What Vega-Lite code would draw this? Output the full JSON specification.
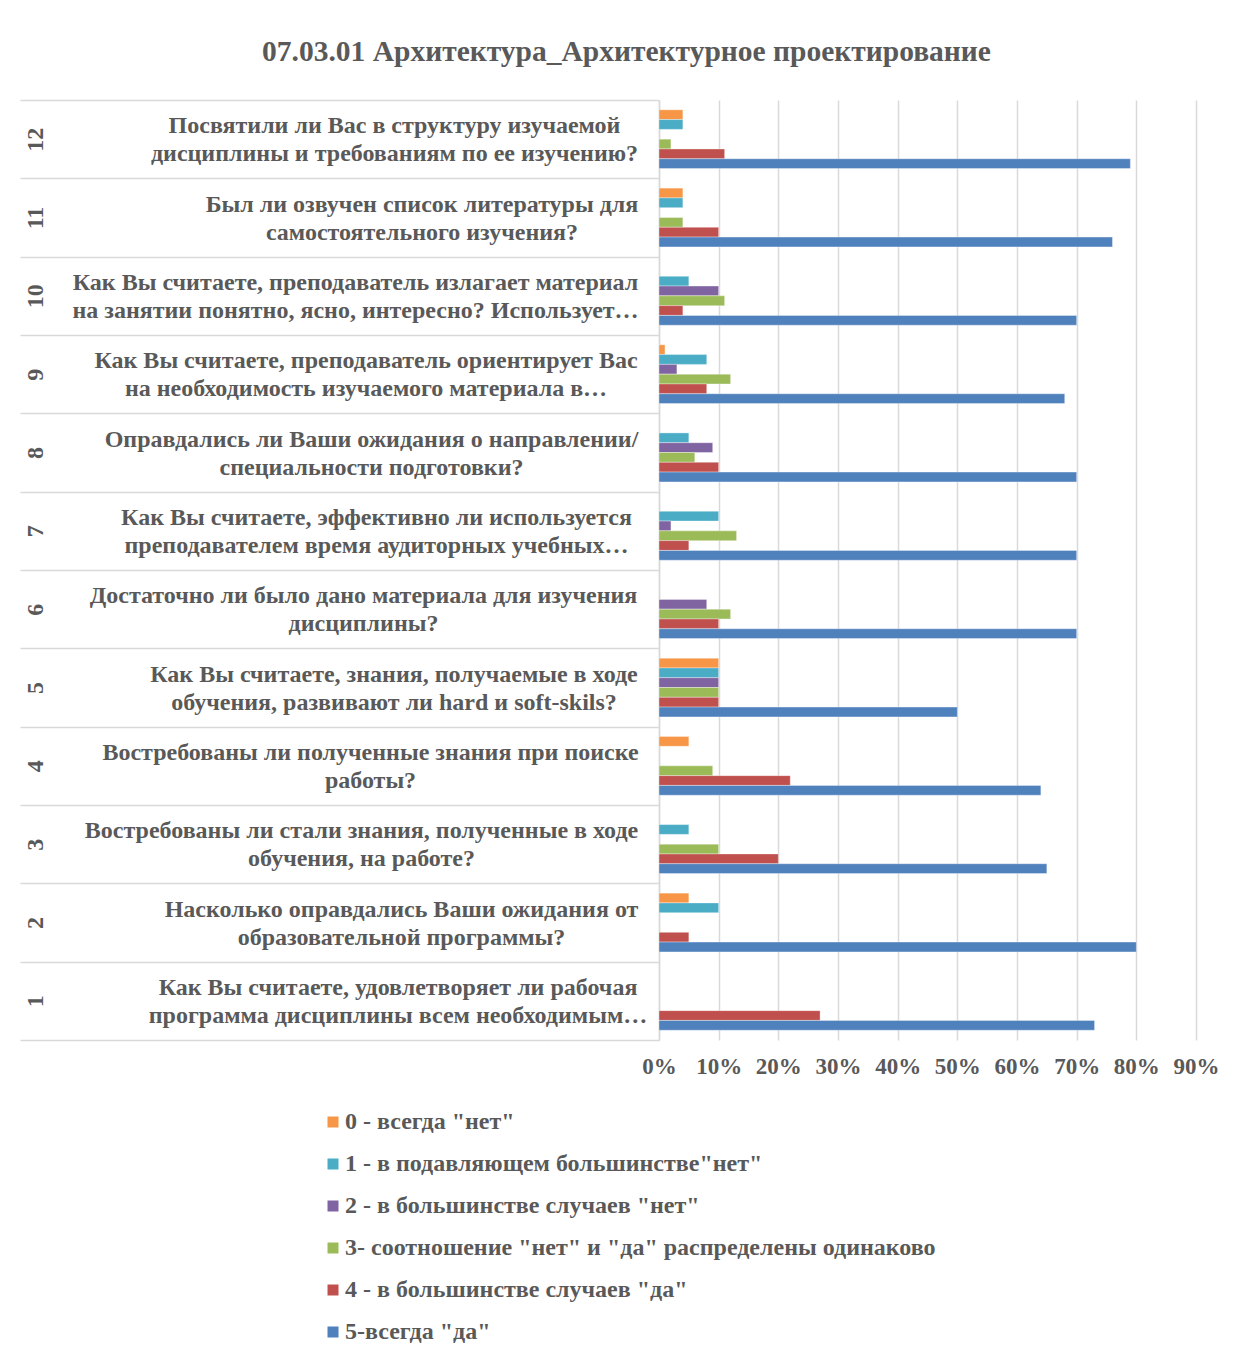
{
  "$schema": "https://vega.github.io/schema/vega-lite/v6.json",
  "autosize": "none",
  "padding": {"left": 659, "top": 100, "right": 42, "bottom": 318},
  "width": 537,
  "height": 940,
  "background": "#ffffff",
  "config": {"view": {"stroke": null}},
  "title": {
    "text": "07.03.01 Архитектура_Архитектурное проектирование",
    "font": "Liberation Serif",
    "fontWeight": "bold",
    "fontSize": 29.5,
    "color": "#595959",
    "anchor": "middle",
    "frame": "group",
    "dx": -301,
    "offset": 32
  },
  "datasets": {
    "questions": [
      {"n": 12, "q": "Посвятили ли Вас в структуру изучаемой|дисциплины и требованиям по ее изучению?"},
      {"n": 11, "q": "Был ли озвучен список литературы для|самостоятельного изучения?"},
      {"n": 10, "q": "Как Вы считаете, преподаватель излагает материал|на занятии понятно, ясно, интересно? Использует…"},
      {"n": 9, "q": "Как Вы считаете, преподаватель ориентирует Вас|на необходимость изучаемого материала в…"},
      {"n": 8, "q": "Оправдались ли Ваши ожидания о направлении/|специальности подготовки?"},
      {"n": 7, "q": "Как Вы считаете, эффективно ли используется|преподавателем время аудиторных учебных…"},
      {"n": 6, "q": "Достаточно ли было дано материала для изучения|дисциплины?"},
      {"n": 5, "q": "Как Вы считаете, знания, получаемые в ходе|обучения, развивают ли hard  и soft-skils?"},
      {"n": 4, "q": "Востребованы ли полученные знания при поиске|работы?"},
      {"n": 3, "q": "Востребованы ли стали знания, полученные в ходе|обучения, на работе?"},
      {"n": 2, "q": "Насколько оправдались Ваши ожидания от|образовательной программы?"},
      {"n": 1, "q": "Как Вы считаете, удовлетворяет ли рабочая|программа дисциплины всем необходимым…"}
    ],
    "series": [
      {"k": 0, "s": "0 - всегда \"нет\""},
      {"k": 1, "s": "1 - в подавляющем большинстве\"нет\""},
      {"k": 2, "s": "2 - в большинстве случаев \"нет\""},
      {"k": 3, "s": "3- соотношение \"нет\" и \"да\" распределены одинаково"},
      {"k": 4, "s": "4 - в большинстве случаев \"да\""},
      {"k": 5, "s": "5-всегда \"да\""}
    ],
    "bars": [
      {"n": 12, "k": 0, "v": 0.04}, {"n": 12, "k": 1, "v": 0.04}, {"n": 12, "k": 3, "v": 0.02}, {"n": 12, "k": 4, "v": 0.11}, {"n": 12, "k": 5, "v": 0.79},
      {"n": 11, "k": 0, "v": 0.04}, {"n": 11, "k": 1, "v": 0.04}, {"n": 11, "k": 3, "v": 0.04}, {"n": 11, "k": 4, "v": 0.10}, {"n": 11, "k": 5, "v": 0.76},
      {"n": 10, "k": 1, "v": 0.05}, {"n": 10, "k": 2, "v": 0.10}, {"n": 10, "k": 3, "v": 0.11}, {"n": 10, "k": 4, "v": 0.04}, {"n": 10, "k": 5, "v": 0.70},
      {"n": 9, "k": 0, "v": 0.01}, {"n": 9, "k": 1, "v": 0.08}, {"n": 9, "k": 2, "v": 0.03}, {"n": 9, "k": 3, "v": 0.12}, {"n": 9, "k": 4, "v": 0.08}, {"n": 9, "k": 5, "v": 0.68},
      {"n": 8, "k": 1, "v": 0.05}, {"n": 8, "k": 2, "v": 0.09}, {"n": 8, "k": 3, "v": 0.06}, {"n": 8, "k": 4, "v": 0.10}, {"n": 8, "k": 5, "v": 0.70},
      {"n": 7, "k": 1, "v": 0.10}, {"n": 7, "k": 2, "v": 0.02}, {"n": 7, "k": 3, "v": 0.13}, {"n": 7, "k": 4, "v": 0.05}, {"n": 7, "k": 5, "v": 0.70},
      {"n": 6, "k": 2, "v": 0.08}, {"n": 6, "k": 3, "v": 0.12}, {"n": 6, "k": 4, "v": 0.10}, {"n": 6, "k": 5, "v": 0.70},
      {"n": 5, "k": 0, "v": 0.10}, {"n": 5, "k": 1, "v": 0.10}, {"n": 5, "k": 2, "v": 0.10}, {"n": 5, "k": 3, "v": 0.10}, {"n": 5, "k": 4, "v": 0.10}, {"n": 5, "k": 5, "v": 0.50},
      {"n": 4, "k": 0, "v": 0.05}, {"n": 4, "k": 3, "v": 0.09}, {"n": 4, "k": 4, "v": 0.22}, {"n": 4, "k": 5, "v": 0.64},
      {"n": 3, "k": 1, "v": 0.05}, {"n": 3, "k": 3, "v": 0.10}, {"n": 3, "k": 4, "v": 0.20}, {"n": 3, "k": 5, "v": 0.65},
      {"n": 2, "k": 0, "v": 0.05}, {"n": 2, "k": 1, "v": 0.10}, {"n": 2, "k": 4, "v": 0.05}, {"n": 2, "k": 5, "v": 0.80},
      {"n": 1, "k": 4, "v": 0.27}, {"n": 1, "k": 5, "v": 0.73}
    ]
  },
  "data": {"name": "bars"},
  "transform": [
    {"lookup": "n", "from": {"data": {"name": "questions"}, "key": "n", "fields": ["q"]}},
    {"lookup": "k", "from": {"data": {"name": "series"}, "key": "k", "fields": ["s"]}}
  ],
  "encoding": {
    "x": {
      "field": "v",
      "type": "quantitative",
      "scale": {"domain": [0, 0.9], "nice": false},
      "axis": {
        "title": null,
        "values": [0, 0.1, 0.2, 0.3, 0.4, 0.5, 0.6, 0.7, 0.8, 0.9],
        "format": ".0%",
        "grid": true,
        "gridColor": "#d9d9d9",
        "gridWidth": 1.5,
        "domain": false,
        "ticks": false,
        "labelOverlap": false,
        "labelFlush": false,
        "labelPadding": 15,
        "labelFont": "Liberation Serif",
        "labelFontWeight": "bold",
        "labelFontSize": 23,
        "labelColor": "#595959"
      }
    }
  },
  "layer": [
    {
      "mark": {"type": "bar", "stroke": "#ffffff", "strokeOpacity": 0.35, "strokeWidth": 1},
      "encoding": {
        "y": {
          "field": "q",
          "type": "nominal",
          "sort": {"field": "n", "op": "max", "order": "descending"},
          "scale": {"paddingInner": 0, "paddingOuter": 0},
          "axis": {
            "orient": "left",
            "title": null,
            "domain": true,
            "domainColor": "#d9d9d9",
            "domainWidth": 1.5,
            "ticks": false,
            "tickSize": 0,
            "labelExpr": "split(datum.label, '|')",
            "labelFont": "Liberation Serif",
            "labelFontWeight": "bold",
            "labelFontSize": 24,
            "labelColor": "#595959",
            "labelPadding": {
              "condition": [
                {"test": "round(datum.index * 11) === 0", "value": 265},
                {"test": "round(datum.index * 11) === 1", "value": 237.5},
                {"test": "round(datum.index * 11) === 2", "value": 304},
                {"test": "round(datum.index * 11) === 3", "value": 293.5},
                {"test": "round(datum.index * 11) === 4", "value": 288},
                {"test": "round(datum.index * 11) === 5", "value": 283},
                {"test": "round(datum.index * 11) === 6", "value": 296},
                {"test": "round(datum.index * 11) === 7", "value": 265.5},
                {"test": "round(datum.index * 11) === 8", "value": 289},
                {"test": "round(datum.index * 11) === 9", "value": 298},
                {"test": "round(datum.index * 11) === 10", "value": 258}
              ],
              "value": 261.5
            },
            "labelOffset": -13,
            "labelLimit": 700,
            "labelLineHeight": 28,
            "labelAlign": "center",
            "labelBaseline": "middle"
          }
        },
        "yOffset": {
          "field": "s",
          "type": "nominal",
          "scale": {"paddingInner": 0, "paddingOuter": 1.0}
        },
        "color": {
          "field": "s",
          "type": "nominal",
          "scale": {"range": ["#F79646", "#4BACC6", "#8064A2", "#9BBB59", "#C0504D", "#4F81BD"]},
          "legend": {
            "title": null,
            "orient": "none",
            "legendX": -338,
            "legendY": 1010,
            "direction": "vertical",
            "symbolType": "square",
            "symbolSize": 121,
            "symbolStrokeWidth": 0,
            "labelFont": "Liberation Serif",
            "labelFontWeight": "bold",
            "labelFontSize": 24,
            "labelColor": "#595959",
            "labelOffset": 0,
            "labelLimit": 800,
            "rowPadding": 18
          }
        }
      }
    },
    {
      "mark": {"type": "bar", "opacity": 0},
      "encoding": {
        "y": {
          "field": "n",
          "type": "ordinal",
          "sort": "descending",
          "scale": {"paddingInner": 0, "paddingOuter": 0},
          "axis": {
            "orient": "left",
            "title": null,
            "domain": false,
            "grid": false,
            "ticks": true,
            "tickBand": "extent",
            "tickSize": 639,
            "tickColor": "#d9d9d9",
            "tickWidth": 1.5,
            "labelAngle": -90,
            "labelAlign": "center",
            "labelBaseline": "middle",
            "labelPadding": -15,
            "labelFont": "Liberation Serif",
            "labelFontWeight": "bold",
            "labelFontSize": 24,
            "labelColor": "#595959"
          }
        }
      }
    }
  ],
  "resolve": {"scale": {"y": "independent"}, "axis": {"y": "independent"}}
}
